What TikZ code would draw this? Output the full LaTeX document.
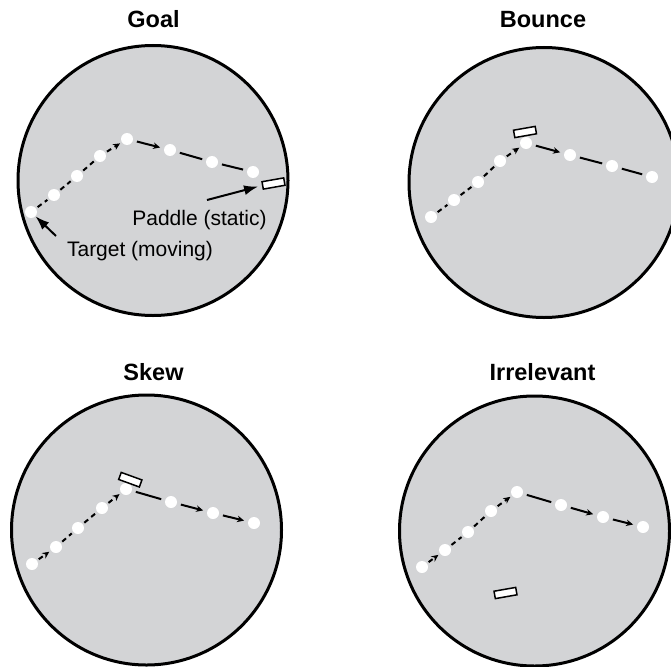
\documentclass[tikz,border=0pt]{standalone}
\usepackage{fontspec}
\setmainfont{Liberation Sans}
\usetikzlibrary{arrows.meta}
\definecolor{arenagray}{RGB}{211,212,214}
\begin{document}
\begin{tikzpicture}[x=1pt,y=-1pt,
  arena/.style={draw=black,line width=3pt,fill=arenagray},
  dotnode/.style={circle,fill=white,draw=none,inner sep=0pt,minimum size=12pt},
  ltrail/.style={line width=2pt,dash pattern=on 5pt off 4pt,shorten <=2pt,shorten >=2pt},
  rtrail/.style={line width=2pt,shorten <=4pt,shorten >=4pt},
  tipped/.style={-{Stealth[length=7pt,width=6.5pt]}},
  paddle/.style={draw=black,line width=1.5pt,fill=white,minimum width=22pt,minimum height=7.5pt,inner sep=0pt},
  title/.style={font=\fontsize{23.5}{28}\selectfont\bfseries,anchor=base},
  lbl/.style={font=\fontsize{21}{25}\selectfont,anchor=base},
  pointer/.style={line width=2pt,-{Latex[length=14pt,width=10pt]}}
]
\useasboundingbox (0,0) rectangle (671,666);

% ---------- arenas ----------
\draw[arena] (153,180.5) circle[radius=135];
\draw[arena] (544,182.5) circle[radius=135];
\draw[arena] (146.5,530) circle[radius=135];
\draw[arena] (534.5,531) circle[radius=135];

% ---------- titles ----------
\node[title] (tgoal) at (153.5,28) {Goal};
\node[title] (tbounce) at (543,28) {Bounce};
\node[title] (tskew) at (153.5,380.5) {Skew};
\node[title] (tirr) at (542.5,380.5) {Irrelevant};

% ---------- Goal ----------
\node[dotnode] (g1) at (31,212) {};
\node[dotnode] (g2) at (54,195) {};
\node[dotnode] (g3) at (77,176) {};
\node[dotnode] (g4) at (100,156) {};
\node[dotnode] (g5) at (127,139) {};
\node[dotnode] (g6) at (170,150) {};
\node[dotnode] (g7) at (212,162) {};
\node[dotnode] (g8) at (253,172) {};
\draw[ltrail] (g1) -- (g2);
\draw[ltrail] (g2) -- (g3);
\draw[ltrail] (g3) -- (g4);
\draw[ltrail,tipped] (g4) -- (g5);
\draw[rtrail,tipped] (g5) -- (g6);
\draw[rtrail] (g6) -- (g7);
\draw[rtrail] (g7) -- (g8);
\node[paddle,rotate=10] (gpad) at (273.5,183.5) {};
\node[lbl] (plabel) at (199.5,225) {Paddle (static)};
\node[lbl] (tlabel) at (140,256) {Target (moving)};
\coordinate (pstart) at (207,200);
\coordinate (tstart) at (56,236);
\draw[pointer,shorten >=4pt] (pstart) -- (gpad.west);
\draw[pointer,shorten >=0pt] (tstart) -- (g1);

% ---------- Bounce ----------
\node[dotnode] (b1) at (431,217) {};
\node[dotnode] (b2) at (454,200) {};
\node[dotnode] (b3) at (478,182) {};
\node[dotnode] (b4) at (500,161) {};
\node[dotnode] (b5) at (526,143) {};
\node[dotnode] (b6) at (570,155) {};
\node[dotnode] (b7) at (612,166) {};
\node[dotnode] (b8) at (652,177) {};
\draw[ltrail] (b1) -- (b2);
\draw[ltrail] (b2) -- (b3);
\draw[ltrail] (b3) -- (b4);
\draw[ltrail,tipped] (b4) -- (b5);
\draw[rtrail,tipped] (b5) -- (b6);
\draw[rtrail] (b6) -- (b7);
\draw[rtrail] (b7) -- (b8);
\node[paddle,rotate=10] (bpad) at (525,132) {};

% ---------- Skew ----------
\node[dotnode] (s1) at (32,564) {};
\node[dotnode] (s2) at (56,547) {};
\node[dotnode] (s3) at (78,528) {};
\node[dotnode] (s4) at (102,508) {};
\node[dotnode] (s5) at (126,489) {};
\node[dotnode] (s6) at (171,502) {};
\node[dotnode] (s7) at (213,513) {};
\node[dotnode] (s8) at (254,523) {};
\draw[ltrail,tipped] (s1) -- (s2);
\draw[ltrail] (s2) -- (s3);
\draw[ltrail] (s3) -- (s4);
\draw[ltrail,tipped] (s4) -- (s5);
\draw[rtrail] (s5) -- (s6);
\draw[rtrail,tipped] (s6) -- (s7);
\draw[rtrail,tipped] (s7) -- (s8);
\node[paddle,rotate=-20] (spad) at (130.3,479.7) {};

% ---------- Irrelevant ----------
\node[dotnode] (i1) at (422,567) {};
\node[dotnode] (i2) at (445,550) {};
\node[dotnode] (i3) at (468,532) {};
\node[dotnode] (i4) at (491,511) {};
\node[dotnode] (i5) at (517,492) {};
\node[dotnode] (i6) at (561,505) {};
\node[dotnode] (i7) at (603,517) {};
\node[dotnode] (i8) at (643,527) {};
\draw[ltrail,tipped] (i1) -- (i2);
\draw[ltrail] (i2) -- (i3);
\draw[ltrail] (i3) -- (i4);
\draw[ltrail,tipped] (i4) -- (i5);
\draw[rtrail] (i5) -- (i6);
\draw[rtrail,tipped] (i6) -- (i7);
\draw[rtrail,tipped] (i7) -- (i8);
\node[paddle,rotate=10] (ipad) at (505.5,593) {};
\end{tikzpicture}
\end{document}
